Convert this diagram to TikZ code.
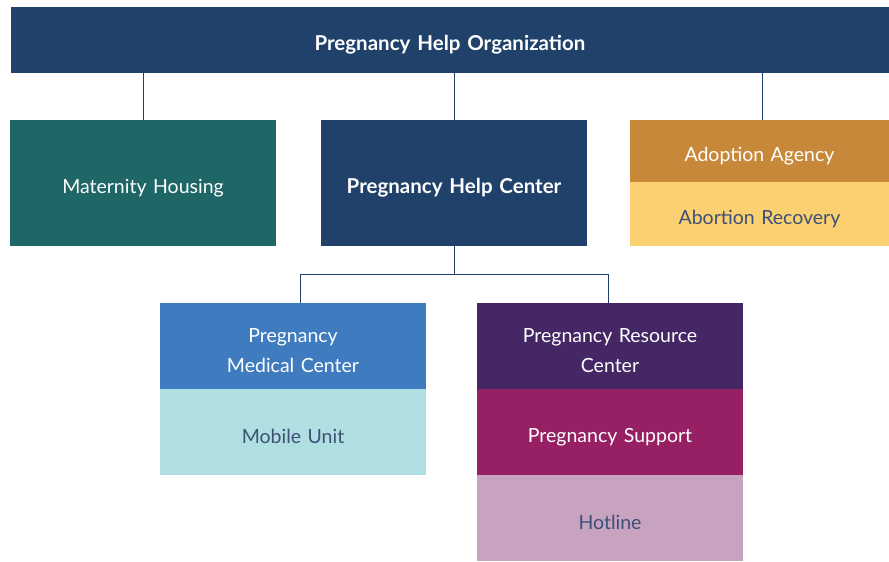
\documentclass[tikz,border=0pt]{standalone}
\usepackage{fontspec}
\setmainfont{Lato}
\usepackage{tikz}
\usetikzlibrary{calc}

\definecolor{navy}{HTML}{20416A}
\definecolor{teal}{HTML}{1F6666}
\definecolor{ochre}{HTML}{C8883A}
\definecolor{sand}{HTML}{FBD070}
\definecolor{medblue}{HTML}{3F7BBF}
\definecolor{ice}{HTML}{B0DFE1}
\definecolor{plum}{HTML}{452766}
\definecolor{berry}{HTML}{962063}
\definecolor{mauve}{HTML}{C7A3C0}
\definecolor{inktext}{HTML}{3D5078}

\tikzset{
  unit/.style={inner sep=0, outer sep=0, text width=#1, text height=24pt, align=center, font=\fontsize{19.5}{30}\selectfont},
  unit/.default=250pt,
  link/.style={draw=navy, line width=0.8pt}
}

\begin{document}
\begin{tikzpicture}[x=1pt, y=-1pt]
\useasboundingbox (0,0) rectangle (889,562);
% top level
\node (org) [unit=860pt, fill=navy, text=white, font=\fontsize{20.5}{30}\selectfont\bfseries, minimum width=878pt, minimum height=66pt] at (450,40) {Pregnancy Help Organization};
% second row
\node (mat) [unit, fill=teal, text=white, minimum width=266pt, minimum height=126pt] at (143,183) {Maternity Housing};
\node (phc) [unit, fill=navy, text=white, font=\fontsize{20.5}{30}\selectfont\bfseries, minimum width=266pt, minimum height=126pt] at (454,183) {Pregnancy Help Center};
\node (ado) [unit, fill=ochre, text=white, minimum width=259pt, minimum height=62pt] at (759.5,151) {Adoption Agency};
\node (abr) [unit, fill=sand, text=inktext, minimum width=259pt, minimum height=64pt] at (759.5,214) {Abortion Recovery};
% third row
\node (pmc) [unit, fill=medblue, text=white, minimum width=266pt, minimum height=86pt] at (293,346) {Pregnancy\\Medical Center};
\node (mob) [unit, fill=ice, text=inktext, minimum width=266pt, minimum height=86pt] at (293,432) {Mobile Unit};
\node (prc) [unit, fill=plum, text=white, minimum width=266pt, minimum height=86pt] at (610,346) {Pregnancy Resource\\Center};
\node (sup) [unit, fill=berry, text=white, minimum width=266pt, minimum height=86pt] at (610,432) {Pregnancy Support};
\node (hot) [unit, fill=mauve, text=inktext, minimum width=266pt, minimum height=86pt] at (610,518) {Hotline};
% connectors
\draw[link] (mat.north) -- (mat.north |- org.south);
\draw[link] (phc.north) -- (phc.north |- org.south);
\draw[link] (ado.north -| 762,0) -- (762,0 |- org.south);
\coordinate (fork) at ($(phc.south)+(0,28)$);
\draw[link] (phc.south) -- (fork);
\draw[link] (fork) -| ($(pmc.north)+(7,0)$);
\draw[link] (fork) -| ($(prc.north)+(-2,0)$);
\end{tikzpicture}
\end{document}
